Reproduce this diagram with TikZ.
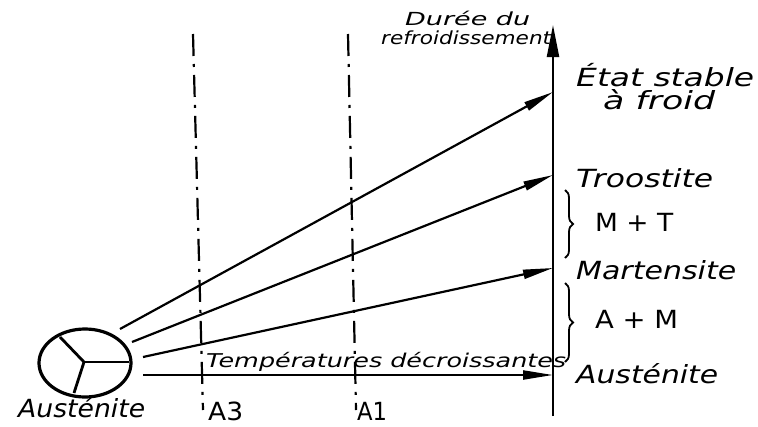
\documentclass[tikz,border=0pt]{standalone}
\usepackage{fontspec}
\setmainfont{DejaVu Sans}
\usetikzlibrary{arrows.meta,shapes.geometric,decorations.pathreplacing}
\newcommand{\fitw}[2]{\resizebox{#1}{\height}{#2}}
\begin{document}
\begin{tikzpicture}[x=1pt,y=-1pt,
  ln/.style={line width=2.2pt},
  arr/.style={ln,-{Triangle[length=30pt,width=9pt]}},
  axisarr/.style={ln,-{Triangle[length=32pt,width=12pt]}},
  dashdot/.style={line width=2.2pt,dash pattern=on 22pt off 8pt on 3pt off 8pt},
  big/.style={font=\fontsize{25}{25}\selectfont\itshape,inner sep=0pt,anchor=base west},
  bigup/.style={font=\fontsize{25}{25}\selectfont,inner sep=0pt,anchor=base west},
  mid/.style={font=\fontsize{19}{19}\selectfont\itshape,inner sep=0pt,anchor=base west},
  small/.style={font=\fontsize{18}{18}\selectfont\itshape,inner sep=0pt,anchor=base west},
  brc/.style={line width=1.8pt,decorate,decoration={brace,amplitude=8pt}}
]
\useasboundingbox (0,0) rectangle (758,426);
\fill[white] (0,0) rectangle (758,426);

% austenite grain
\node[ellipse,draw,line width=3.2pt,minimum width=92pt,minimum height=68pt,inner sep=0pt] (aus) at (85,363) {};
\coordinate (gc) at (84,362);
\draw[line width=2.8pt] (gc) -- (60,337);
\draw[line width=2.8pt] (gc) -- (129,362);
\draw[line width=2.8pt] (gc) -- (74,393);

% dash-dot lines
\coordinate (a3t) at (193,34);
\coordinate (a3b) at (203,410);
\coordinate (a1t) at (348,34);
\coordinate (a1b) at (356,410);
\draw[dashdot] (a3t) -- (a3b);
\draw[dashdot] (a1t) -- (a1b);

% vertical axis
\coordinate (axb) at (553,416);
\coordinate (axt) at (553,25);
\draw[axisarr] (axb) -- (axt);

% arrows
\coordinate (s1) at (120,329);
\coordinate (s2) at (132,342);
\coordinate (s3) at (143,357);
\coordinate (s4) at (143,375);
\coordinate (e1) at (553,92);
\coordinate (e2) at (553,175);
\coordinate (e3) at (553,268);
\coordinate (e4) at (553,375);
\draw[arr] (s1) -- (e1);
\draw[arr] (s2) -- (e2);
\draw[arr] (s3) -- (e3);
\draw[arr] (s4) -- (e4);

% braces
\coordinate (b1t) at (565,190);
\coordinate (b1b) at (565,258);
\coordinate (b2t) at (565,283);
\coordinate (b2b) at (565,362);
\draw[brc] (b1t) -- (b1b);
\draw[brc] (b2t) -- (b2b);

% labels
\node[small] (dur) at (405,25) {\fitw{125pt}{Durée du}};
\node[small] (ref) at (381,44) {\fitw{170pt}{refroidissement}};
\node[big] (etat) at (576,86) {\fitw{178pt}{État stable}};
\node[big] (froid) at (603,109) {\fitw{112pt}{à froid}};
\node[big] (troo) at (576,187) {\fitw{137pt}{Troostite}};
\node[bigup] (mt) at (595,231) {\fitw{78pt}{M + T}};
\node[big] (mart) at (576,279) {\fitw{160pt}{Martensite}};
\node[bigup] (am) at (595,328) {\fitw{83pt}{A + M}};
\node[big] (ausr) at (576,383) {\fitw{142pt}{Austénite}};
\node[big] (ausl) at (18,417) {\fitw{127pt}{Austénite}};
\node[mid] (temp) at (206,367) {\fitw{360pt}{Températures décroissantes}};
\node[bigup] (la3) at (208,420) {\fitw{35pt}{A3}};
\node[bigup] (la1) at (357,420) {\fitw{30pt}{A1}};
\end{tikzpicture}
\end{document}
